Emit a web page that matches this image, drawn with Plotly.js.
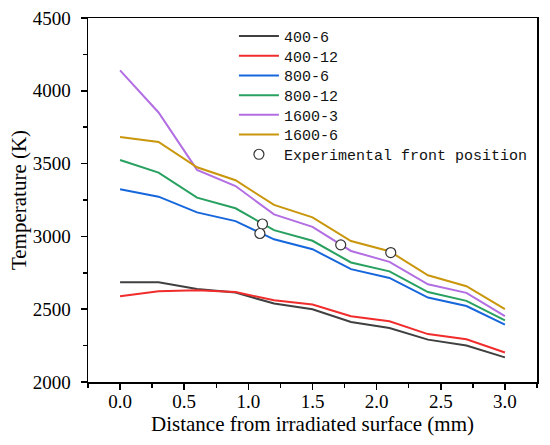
<!DOCTYPE html>
<html>
<head>
<meta charset="utf-8">
<script src="https://cdn.plot.ly/plotly-3.0.1.min.js"></script>
<style>html,body{margin:0;padding:0;background:#fff}#chart{width:550px;height:445px}</style>
</head>
<body>
<div id="chart"></div>
<script>
const distance = [0, 0.3, 0.6, 0.9, 1.2, 1.5, 1.8, 2.1, 2.4, 2.7, 3.0];
const t400_6  = [2685, 2685, 2639, 2614, 2539, 2499, 2412, 2371, 2291, 2251, 2169];
const t400_12 = [2589, 2623, 2630, 2618, 2561, 2532, 2451, 2417, 2329, 2293, 2203];
const t800_6  = [3324, 3273, 3165, 3105, 2980, 2912, 2775, 2715, 2580, 2522, 2394];
const t800_12 = [3525, 3438, 3266, 3193, 3043, 2970, 2821, 2760, 2618, 2557, 2424];
const t1600_3 = [4140, 3851, 3457, 3346, 3151, 3066, 2900, 2825, 2671, 2612, 2453];
const t1600_6 = [3682, 3649, 3475, 3386, 3216, 3131, 2968, 2898, 2733, 2658, 2501];
const expX = [1.11, 1.09, 1.72, 2.11];
const expY = [3085, 3020, 2942, 2889];
const seriesNames = ['400-6', '400-12', '800-6', '800-12', '1600-3', '1600-6'];
const seriesData = [t400_6, t400_12, t800_6, t800_12, t1600_3, t1600_6];
const colors = ['#404040', '#f02c2c', '#1666dc', '#28a060', '#b26ee2', '#c9960c'];

const traces = seriesData.map((d, i) => ({
  x: distance, y: d, type: 'scatter', mode: 'lines', name: seriesNames[i],
  line: {color: colors[i], width: 2}
}));
traces.push({
  x: expX, y: expY, type: 'scatter', mode: 'markers', name: 'Experimental front position',
  marker: {symbol: 'circle', size: 10, color: '#ffffff', line: {color: '#333333', width: 1.2}}
});

const serif = '"Liberation Serif", "Times New Roman", serif';
const tickFont = {family: serif, size: 19, color: '#000'};
const titleFont = {family: serif, size: 21, color: '#000'};
const layout = {
  width: 550, height: 445,
  margin: {l: 88, r: 13, t: 18, b: 63},
  paper_bgcolor: '#fff', plot_bgcolor: '#fff',
  showlegend: true,
  legend: {
    x: 0.325, y: 0.995, xanchor: 'left', yanchor: 'top',
    bgcolor: 'rgba(0,0,0,0)', borderwidth: 0,
    font: {family: '"Liberation Mono", "Courier New", monospace', size: 15, color: '#111'},
    itemwidth: 40, tracegroupgap: 0
  },
  xaxis: {
    range: [-0.25, 3.25], dtick: 0.5, tick0: 0, tickformat: '.1f',
    ticks: 'outside', ticklen: 6, tickwidth: 1.5, tickcolor: '#000',
    minor: {dtick: 0.25, tick0: 0, ticks: 'outside', ticklen: 4, tickwidth: 1.5, tickcolor: '#000', showgrid: false},
    showline: true, linecolor: '#000', linewidth: 1.5, mirror: true,
    showgrid: false, zeroline: false,
    tickfont: tickFont, ticklabelstandoff: -4,
    title: {text: 'Distance from irradiated surface (mm)', font: titleFont, standoff: 0}
  },
  yaxis: {
    range: [2000, 4500], dtick: 500,
    ticks: 'outside', ticklen: 6, tickwidth: 1.5, tickcolor: '#000',
    minor: {dtick: 250, ticks: 'outside', ticklen: 4, tickwidth: 1.5, tickcolor: '#000', showgrid: false},
    showline: true, linecolor: '#000', linewidth: 1.5, mirror: true,
    showgrid: false, zeroline: false,
    tickfont: tickFont, ticklabelstandoff: 6,
    title: {text: 'Temperature (K)', font: titleFont, standoff: 0}
  }
};
Plotly.newPlot('chart', traces, layout, {displayModeBar: false, staticPlot: true}).then(gd => {
  // tighten legend row spacing to match the reference
  const items = gd.querySelectorAll('.legend .traces');
  const rowGap = 19.7;
  let y0 = null;
  items.forEach((el, i) => {
    const m = /translate\(([-\d.]+),\s*([-\d.]+)\)/.exec(el.getAttribute('transform') || '');
    if (!m) return;
    if (y0 === null) y0 = parseFloat(m[2]);
    el.setAttribute('transform', 'translate(' + m[1] + ',' + (y0 + i * rowGap) + ')');
  });
});
</script>
</body>
</html>
